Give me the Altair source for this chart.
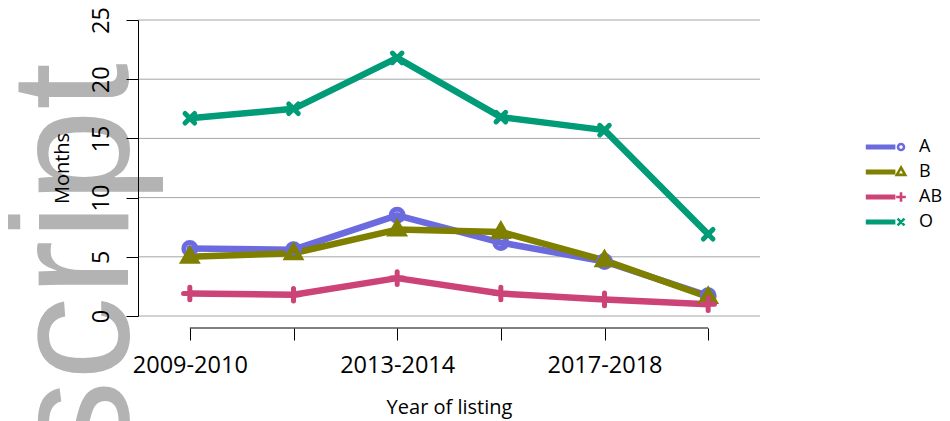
import altair as alt
import pandas as pd

years = ["2009-2010", "2011-2012", "2013-2014", "2015-2016", "2017-2018", "2019-2020"]
shown_labels = ["2009-2010", "2013-2014", "2017-2018"]
groups = ["A", "B", "AB", "O"]
months_A = [5.7, 5.6, 8.5, 6.2, 4.6, 1.7]
months_B = [5.0, 5.3, 7.3, 7.1, 4.7, 1.6]
months_AB = [1.9, 1.8, 3.2, 1.9, 1.4, 1.0]
months_O = [16.7, 17.5, 21.8, 16.8, 15.7, 6.9]
y_ticks = [0, 5, 10, 15, 20, 25]
colors = ["#6b6bdf", "#7f7f00", "#cc4477", "#009b77"]

series = {"A": months_A, "B": months_B, "AB": months_AB, "O": months_O}
rows = []
for g in groups:
    for yr, v in zip(years, series[g]):
        rows.append({"year": yr, "group": g, "grp": g, "months": v})
df = pd.DataFrame(rows)

marker_paths = {
    "A": "M1,0A1,1 0 1,1 -1,0A1,1 0 1,1 1,0Z",
    "B": "M0,-1.15L1.1,0.75L-1.1,0.75Z",
    "AB": "M-1.05,0H1.05M0,-1.05V1.05",
    "O": "M-0.8,-0.8L0.8,0.8M0.8,-0.8L-0.8,0.8",
}
legend_marker_paths = {
    "A": "M1,0A1,1 0 1,1 -1,0A1,1 0 1,1 1,0Z",
    "B": "M0,-1.5L1.4,0.95L-1.4,0.95Z",
    "AB": "M-1.6,0H1.6M0,-1.6V1.6",
    "O": "M-1.15,-1.15L1.15,1.15M1.15,-1.15L-1.15,1.15",
}
legend_line = "M-11.3,-0.4H-2.3V0.4H-11.3Z"
legend_paths = [legend_line + legend_marker_paths[g] for g in groups]

W, H = 622, 296
FONT = "Open Sans"

color_scale = alt.Scale(domain=groups, range=colors)
shape_scale = alt.Scale(domain=groups, range=[marker_paths[g] for g in groups])
legend_shape_scale = alt.Scale(domain=groups, range=legend_paths)
x_scale = alt.Scale(type="point", domain=years, padding=0.5)
y_scale = alt.Scale(domain=[0, 25], nice=False)

label_expr = "indexof(" + str(shown_labels) + ", datum.value) >= 0 ? datum.label : ''"

x_axis = alt.Axis(
    title="Year of listing", labelExpr=label_expr, labelAngle=0, labelFontSize=23.5,
    labelFont=FONT, labelColor="black", titleFont=FONT, titleFontSize=20,
    titleFontWeight="normal", titleColor="black", titlePadding=21,
    tickSize=12, tickColor="black", domain=False, offset=12, grid=False,
    labelPadding=13, zindex=1, labelOverlap=False,
)
y_axis = alt.Axis(
    title="Months", values=y_ticks, labelAngle=270, labelFontSize=23.5, labelFont=FONT,
    labelColor="black", titleFont=FONT, titleFontSize=20, titleFontWeight="normal",
    titleColor="black", titlePadding=17, tickSize=12, tickColor="black",
    domainColor="black", grid=False, labelPadding=13, zindex=1,
)

base = alt.Chart(df)

watermark = alt.Chart(pd.DataFrame({"t": ["script"]})).mark_text(
    font="Liberation Sans", fontSize=168, color="#b3b3b3", angle=270, align="right",
    baseline="alphabetic",
).encode(text="t:N", x=alt.value(-10), y=alt.value(43))

grid = alt.Chart(pd.DataFrame({"v": y_ticks})).mark_rule(
    color="#a6a6a6", strokeWidth=1
).encode(y=alt.Y("v:Q", scale=y_scale, axis=y_axis))

x_domain = alt.Chart(pd.DataFrame({"a": [years[0]], "b": [years[-1]]})).mark_rule(
    color="black", strokeWidth=1
).encode(
    x=alt.X("a:O", scale=x_scale, sort=years, axis=x_axis), x2="b:O",
    y=alt.value(H + 12),
)

lines = base.mark_line(strokeWidth=6.5, strokeCap="round", strokeJoin="round").encode(
    x=alt.X("year:O", scale=x_scale, sort=years, axis=x_axis),
    y=alt.Y("months:Q", scale=y_scale, axis=y_axis),
    color=alt.Color("group:N", scale=color_scale, sort=groups, legend=None),
    detail="group:N",
)

points = base.mark_point(filled=False, strokeWidth=5, size=144, opacity=1,
                         strokeCap="round").encode(
    x=alt.X("year:O", scale=x_scale, sort=years, axis=x_axis),
    y=alt.Y("months:Q", scale=y_scale, axis=y_axis),
    color=alt.Color("group:N", scale=color_scale, sort=groups, legend=None),
    shape=alt.Shape("group:N", scale=shape_scale, sort=groups, legend=None),
)

leg = alt.Legend(
    title=None, orient="none", legendX=754, legendY=118, labelFont=FONT,
    labelFontSize=18, labelColor="black", symbolSize=36, symbolStrokeWidth=2.6,
    rowPadding=6, labelOffset=9, symbolOpacity=1,
)
legend_layer = base.transform_filter("false").mark_point(
    filled=False, strokeWidth=2.6, size=36, strokeCap="round"
).encode(
    x=alt.X("year:O", scale=x_scale, sort=years, axis=x_axis),
    y=alt.Y("months:Q", scale=y_scale, axis=y_axis),
    color=alt.Color("grp:N", scale=color_scale, sort=groups, legend=leg),
    shape=alt.Shape("grp:N", scale=legend_shape_scale, sort=groups, legend=leg),
)

chart = alt.layer(watermark, grid, x_domain, lines, points, legend_layer).resolve_scale(
    color="independent", shape="independent"
).properties(
    width=W, height=H,
    padding={"left": 130, "top": 12, "right": 182, "bottom": 105},
    autosize=alt.AutoSizeParams(type="none"),
).configure_view(stroke=None)

chart.save("out.html", embed_options={"renderer": "svg", "actions": False})
